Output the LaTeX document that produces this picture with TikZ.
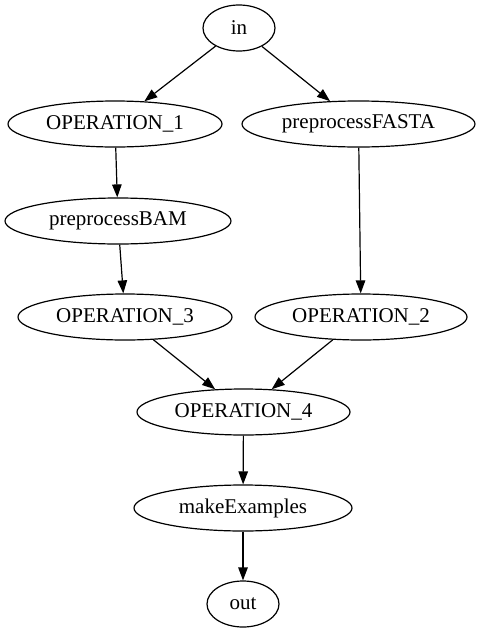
\documentclass[tikz,border=0pt]{standalone}
\usepackage{fontspec}
\setmainfont{Liberation Serif}
\usetikzlibrary{shapes.geometric,arrows.meta}

\begin{document}
\begin{tikzpicture}[x=1pt,y=-1pt,line width=1.2pt,>={Triangle[length=13pt,width=9.5pt]},
  font=\fontsize{21}{25}\selectfont,
  op/.style={draw,ellipse,inner sep=0pt,minimum height=46pt},
  sm/.style={op,minimum width=72pt}]
  \useasboundingbox (0,0) rectangle (492,635);

  % ---------- nodes ----------
  \node[sm] (in) at (239,28) {in};
  \node[op,minimum width=214pt] (op1) at (115,124) {OPERATION\_1};
  \node[op,minimum width=233pt] (fasta) at (358.5,124) {preprocessFASTA};
  \node[op,minimum width=226pt] (bam) at (118,221) {preprocessBAM};
  \node[op,minimum width=214pt] (op3) at (125,317) {OPERATION\_3};
  \node[op,minimum width=212pt] (op2) at (361,317) {OPERATION\_2};
  \node[op,minimum width=213pt] (op4) at (243.5,412) {OPERATION\_4};
  \node[op,minimum width=218pt] (mk) at (243,508) {makeExamples};
  \node[sm] (out) at (243,604) {out};

  % ---------- edges ----------
  \draw[->] (in)--(op1); \draw[->] (in)--(fasta);
  \draw[->] (op1)--(bam); \draw[->] (bam)--(op3);
  \draw[->] (fasta)--(op2);
  \draw[->] (op3)--(op4); \draw[->] (op2)--(op4);
  \draw[->] (op4)--(mk); \draw[->] (mk)--(out);
\end{tikzpicture}
\end{document}
